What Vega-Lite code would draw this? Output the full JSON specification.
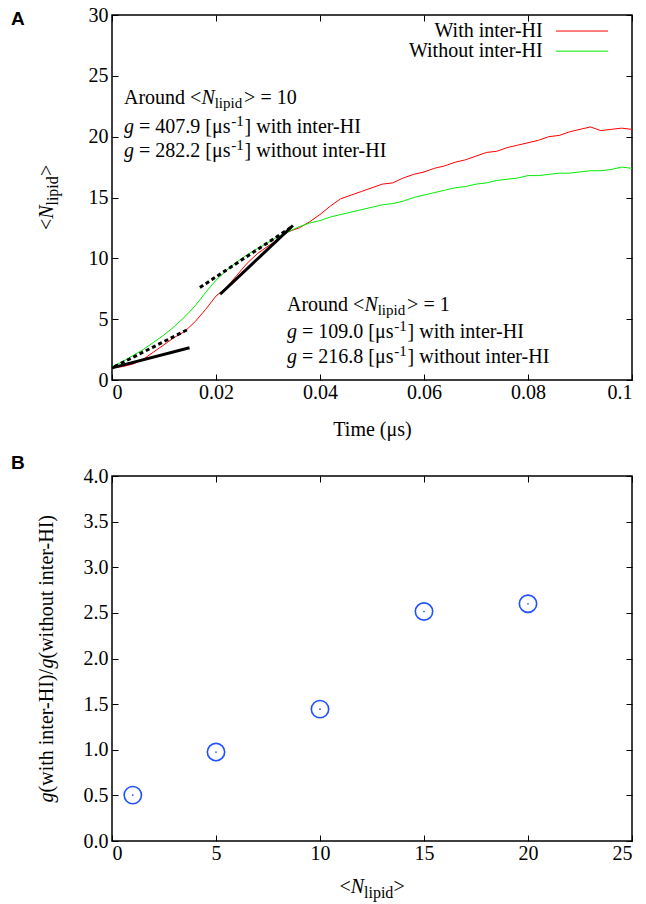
{
  "$schema": "https://vega.github.io/schema/vega-lite/v6.json",
  "padding": {"left": 10, "top": 4, "right": 4, "bottom": 4},
  "config": {
    "font": "Liberation Serif",
    "view": {"stroke": "black", "strokeWidth": 1.5},
    "style": {"guide-label": {"font": "Liberation Serif", "fontSize": 20, "fill": "black"}, "guide-title": {"font": "Liberation Serif", "fontSize": 20, "fontWeight": "normal", "fill": "black"}},
    "axis": {
      "labelFont": "Liberation Serif", "labelFontSize": 20, "labelColor": "black",
      "titleFont": "Liberation Serif", "titleFontSize": 20, "titleFontWeight": "normal", "titleColor": "black",
      "tickColor": "black", "tickSize": -6, "tickWidth": 1, "domain": false, "grid": false
    }
  },
  "datasets": {
    "curves": [
      {"s": "With inter-HI", "t": 0, "n": 1.0}, {"s": "With inter-HI", "t": 0.002, "n": 1.1}, {"s": "With inter-HI", "t": 0.004, "n": 1.3}, {"s": "With inter-HI", "t": 0.006, "n": 1.7}, {"s": "With inter-HI", "t": 0.008, "n": 2.3}, {"s": "With inter-HI", "t": 0.010, "n": 2.9}, {"s": "With inter-HI", "t": 0.012, "n": 3.5}, {"s": "With inter-HI", "t": 0.014, "n": 4.0}, {"s": "With inter-HI", "t": 0.016, "n": 4.8}, {"s": "With inter-HI", "t": 0.018, "n": 5.8}, {"s": "With inter-HI", "t": 0.020, "n": 6.9}, {"s": "With inter-HI", "t": 0.022, "n": 7.6}, {"s": "With inter-HI", "t": 0.024, "n": 8.6}, {"s": "With inter-HI", "t": 0.026, "n": 9.6}, {"s": "With inter-HI", "t": 0.028, "n": 10.4}, {"s": "With inter-HI", "t": 0.030, "n": 11.0}, {"s": "With inter-HI", "t": 0.032, "n": 11.6}, {"s": "With inter-HI", "t": 0.034, "n": 12.2}, {"s": "With inter-HI", "t": 0.036, "n": 12.5}, {"s": "With inter-HI", "t": 0.038, "n": 13.0}, {"s": "With inter-HI", "t": 0.040, "n": 13.6}, {"s": "With inter-HI", "t": 0.042, "n": 14.3}, {"s": "With inter-HI", "t": 0.044, "n": 14.9}, {"s": "With inter-HI", "t": 0.046, "n": 15.2}, {"s": "With inter-HI", "t": 0.048, "n": 15.5}, {"s": "With inter-HI", "t": 0.050, "n": 15.8}, {"s": "With inter-HI", "t": 0.052, "n": 16.1}, {"s": "With inter-HI", "t": 0.054, "n": 16.2}, {"s": "With inter-HI", "t": 0.056, "n": 16.6}, {"s": "With inter-HI", "t": 0.058, "n": 16.9}, {"s": "With inter-HI", "t": 0.060, "n": 17.1}, {"s": "With inter-HI", "t": 0.062, "n": 17.4}, {"s": "With inter-HI", "t": 0.064, "n": 17.6}, {"s": "With inter-HI", "t": 0.066, "n": 17.9}, {"s": "With inter-HI", "t": 0.068, "n": 18.1}, {"s": "With inter-HI", "t": 0.070, "n": 18.4}, {"s": "With inter-HI", "t": 0.072, "n": 18.7}, {"s": "With inter-HI", "t": 0.074, "n": 18.8}, {"s": "With inter-HI", "t": 0.076, "n": 19.1}, {"s": "With inter-HI", "t": 0.078, "n": 19.3}, {"s": "With inter-HI", "t": 0.080, "n": 19.5}, {"s": "With inter-HI", "t": 0.082, "n": 19.7}, {"s": "With inter-HI", "t": 0.084, "n": 20.0}, {"s": "With inter-HI", "t": 0.086, "n": 20.1}, {"s": "With inter-HI", "t": 0.088, "n": 20.4}, {"s": "With inter-HI", "t": 0.090, "n": 20.6}, {"s": "With inter-HI", "t": 0.092, "n": 20.8}, {"s": "With inter-HI", "t": 0.094, "n": 20.5}, {"s": "With inter-HI", "t": 0.096, "n": 20.6}, {"s": "With inter-HI", "t": 0.098, "n": 20.7}, {"s": "With inter-HI", "t": 0.100, "n": 20.6},
      {"s": "Without inter-HI", "t": 0, "n": 1.1}, {"s": "Without inter-HI", "t": 0.002, "n": 1.5}, {"s": "Without inter-HI", "t": 0.004, "n": 2.0}, {"s": "Without inter-HI", "t": 0.006, "n": 2.5}, {"s": "Without inter-HI", "t": 0.008, "n": 3.1}, {"s": "Without inter-HI", "t": 0.010, "n": 3.7}, {"s": "Without inter-HI", "t": 0.012, "n": 4.4}, {"s": "Without inter-HI", "t": 0.014, "n": 5.2}, {"s": "Without inter-HI", "t": 0.016, "n": 6.1}, {"s": "Without inter-HI", "t": 0.018, "n": 7.2}, {"s": "Without inter-HI", "t": 0.020, "n": 8.2}, {"s": "Without inter-HI", "t": 0.022, "n": 9.0}, {"s": "Without inter-HI", "t": 0.024, "n": 9.7}, {"s": "Without inter-HI", "t": 0.026, "n": 10.3}, {"s": "Without inter-HI", "t": 0.028, "n": 10.8}, {"s": "Without inter-HI", "t": 0.030, "n": 11.3}, {"s": "Without inter-HI", "t": 0.032, "n": 11.8}, {"s": "Without inter-HI", "t": 0.034, "n": 12.2}, {"s": "Without inter-HI", "t": 0.036, "n": 12.6}, {"s": "Without inter-HI", "t": 0.038, "n": 12.9}, {"s": "Without inter-HI", "t": 0.040, "n": 13.1}, {"s": "Without inter-HI", "t": 0.042, "n": 13.4}, {"s": "Without inter-HI", "t": 0.044, "n": 13.6}, {"s": "Without inter-HI", "t": 0.046, "n": 13.8}, {"s": "Without inter-HI", "t": 0.048, "n": 14.0}, {"s": "Without inter-HI", "t": 0.050, "n": 14.2}, {"s": "Without inter-HI", "t": 0.052, "n": 14.4}, {"s": "Without inter-HI", "t": 0.054, "n": 14.5}, {"s": "Without inter-HI", "t": 0.056, "n": 14.7}, {"s": "Without inter-HI", "t": 0.058, "n": 15.0}, {"s": "Without inter-HI", "t": 0.060, "n": 15.2}, {"s": "Without inter-HI", "t": 0.062, "n": 15.4}, {"s": "Without inter-HI", "t": 0.064, "n": 15.6}, {"s": "Without inter-HI", "t": 0.066, "n": 15.8}, {"s": "Without inter-HI", "t": 0.068, "n": 15.9}, {"s": "Without inter-HI", "t": 0.070, "n": 16.1}, {"s": "Without inter-HI", "t": 0.072, "n": 16.2}, {"s": "Without inter-HI", "t": 0.074, "n": 16.4}, {"s": "Without inter-HI", "t": 0.076, "n": 16.5}, {"s": "Without inter-HI", "t": 0.078, "n": 16.6}, {"s": "Without inter-HI", "t": 0.080, "n": 16.8}, {"s": "Without inter-HI", "t": 0.082, "n": 16.8}, {"s": "Without inter-HI", "t": 0.084, "n": 16.9}, {"s": "Without inter-HI", "t": 0.086, "n": 17.0}, {"s": "Without inter-HI", "t": 0.088, "n": 17.0}, {"s": "Without inter-HI", "t": 0.090, "n": 17.1}, {"s": "Without inter-HI", "t": 0.092, "n": 17.2}, {"s": "Without inter-HI", "t": 0.094, "n": 17.2}, {"s": "Without inter-HI", "t": 0.096, "n": 17.3}, {"s": "Without inter-HI", "t": 0.098, "n": 17.5}, {"s": "Without inter-HI", "t": 0.100, "n": 17.4}
    ],
    "tanSolid": [
      {"t": 0, "n": 1.0, "t2": 0.0149, "n2": 2.65},
      {"t": 0.0208, "n": 7.05, "t2": 0.0348, "n2": 12.7}
    ],
    "tanDashed": [
      {"t": 0.0005, "n": 1.1, "t2": 0.0148, "n2": 4.2},
      {"t": 0.0169, "n": 7.6, "t2": 0.0348, "n2": 12.65}
    ],
    "legendRows": [
      {"s": "With inter-HI", "n": 28.68},
      {"s": "Without inter-HI", "n": 27.03}
    ],
    "plainA": [
      {"txt": "Around <", "t": 0.002308, "n": 22.65},
      {"txt": "> = 10", "t": 0.025404, "n": 22.65},
      {"txt": "= 407.9 [μs", "t": 0.005192, "n": 20.32},
      {"txt": "] with inter-HI", "t": 0.0255, "n": 20.32},
      {"txt": "= 282.2 [μs", "t": 0.005192, "n": 18.32},
      {"txt": "] without inter-HI", "t": 0.0255, "n": 18.32},
      {"txt": "Around <", "t": 0.033654, "n": 5.67},
      {"txt": "> = 1", "t": 0.05675, "n": 5.67},
      {"txt": "= 109.0 [μs", "t": 0.036538, "n": 3.48},
      {"txt": "] with inter-HI", "t": 0.056846, "n": 3.48},
      {"txt": "= 216.8 [μs", "t": 0.036538, "n": 1.42},
      {"txt": "] without inter-HI", "t": 0.056846, "n": 1.42}
    ],
    "italicA": [
      {"txt": "N", "t": 0.017192, "n": 22.65},
      {"txt": "g", "t": 0.002308, "n": 20.32},
      {"txt": "g", "t": 0.002308, "n": 18.32},
      {"txt": "N", "t": 0.048538, "n": 5.67},
      {"txt": "g", "t": 0.033654, "n": 3.48},
      {"txt": "g", "t": 0.033654, "n": 1.42}
    ],
    "subA": [
      {"txt": "lipid", "t": 0.01975, "n": 22.65},
      {"txt": "lipid", "t": 0.051096, "n": 5.67}
    ],
    "supA": [
      {"txt": "-1", "t": 0.022923, "n": 20.32},
      {"txt": "-1", "t": 0.022923, "n": 18.32},
      {"txt": "-1", "t": 0.054269, "n": 3.48},
      {"txt": "-1", "t": 0.054269, "n": 1.42}
    ],
    "ytitleA": [
      {"txt": "<", "n": 12.32},
      {"txt": ">", "n": 16.76}
    ],
    "ratio": [
      {"nl": 1, "r": 0.503},
      {"nl": 5, "r": 0.975},
      {"nl": 10, "r": 1.445},
      {"nl": 15, "r": 2.515},
      {"nl": 20, "r": 2.6}
    ],
    "ytitleBPlain": [
      {"txt": "(with inter-HI)/", "r": 0.5326},
      {"txt": "(without inter-HI)", "r": 2.0}
    ],
    "ytitleBItalic": [
      {"txt": "g", "r": 0.423},
      {"txt": "g", "r": 1.8904}
    ],
    "xtitleBPlain": [
      {"txt": "<", "nl": 10.933},
      {"txt": ">", "nl": 13.529}
    ]
  },
  "spacing": 96,
  "bounds": "flush",
  "vconcat": [
    {
      "width": 520, "height": 365,
      "resolve": {"axis": {"x": "independent", "y": "independent"}},
      "layer": [
        {
          "data": {"name": "curves"},
          "mark": {"type": "line", "strokeWidth": 1},
          "encoding": {
            "x": {"field": "t", "type": "quantitative", "scale": {"domain": [0, 0.1], "nice": false, "zero": false},
                  "axis": {"values": [0, 0.02, 0.04, 0.06, 0.08, 0.1], "format": "~g", "title": "Time (μs)", "labelFont": "Liberation Serif", "labelFontSize": 20, "labelPadding": 8, "titlePadding": 17}},
            "y": {"field": "n", "type": "quantitative", "scale": {"domain": [0, 30], "nice": false},
                  "axis": {"values": [0, 5, 10, 15, 20, 25, 30], "title": null, "labelFont": "Liberation Serif", "labelFontSize": 20, "labelPadding": 10}},
            "color": {"field": "s", "type": "nominal", "scale": {"domain": ["With inter-HI", "Without inter-HI"], "range": ["#ff0000", "#00ee00"]}, "legend": null}
          }
        },
        {
          "data": {"name": "tanSolid"},
          "mark": {"type": "rule", "strokeWidth": 3, "color": "black"},
          "encoding": {
            "x": {"field": "t", "type": "quantitative", "axis": {"orient": "top", "values": [0, 0.02, 0.04, 0.06, 0.08, 0.1], "labels": false, "title": null}},
            "x2": {"field": "t2"},
            "y": {"field": "n", "type": "quantitative", "axis": {"orient": "right", "values": [0, 5, 10, 15, 20, 25, 30], "labels": false, "title": null}},
            "y2": {"field": "n2"}
          }
        },
        {
          "data": {"name": "tanDashed"},
          "mark": {"type": "rule", "strokeWidth": 3, "color": "black", "strokeDash": [4, 3]},
          "encoding": {
            "x": {"field": "t", "type": "quantitative", "axis": null},
            "x2": {"field": "t2"},
            "y": {"field": "n", "type": "quantitative", "axis": null},
            "y2": {"field": "n2"}
          }
        },
        {
          "data": {"name": "legendRows"},
          "mark": {"type": "text", "align": "right", "baseline": "middle", "fontSize": 20, "font": "Liberation Serif", "color": "black"},
          "encoding": {
            "x": {"datum": 0.08283, "type": "quantitative", "axis": null},
            "y": {"field": "n", "type": "quantitative", "axis": null},
            "text": {"field": "s"}
          }
        },
        {
          "data": {"name": "legendRows"},
          "mark": {"type": "rule", "strokeWidth": 1},
          "encoding": {
            "x": {"datum": 0.08538, "type": "quantitative", "axis": null},
            "x2": {"datum": 0.09538},
            "y": {"field": "n", "type": "quantitative", "axis": null},
            "color": {"field": "s", "type": "nominal", "legend": null}
          }
        },
        {
          "data": {"name": "plainA"},
          "mark": {"type": "text", "align": "left", "baseline": "alphabetic", "fontSize": 20, "font": "Liberation Serif", "color": "black"},
          "encoding": {
            "x": {"field": "t", "type": "quantitative", "axis": null},
            "y": {"field": "n", "type": "quantitative", "axis": null},
            "text": {"field": "txt"}
          }
        },
        {
          "data": {"name": "italicA"},
          "mark": {"type": "text", "align": "left", "baseline": "alphabetic", "fontSize": 20, "fontStyle": "italic", "font": "Liberation Serif", "color": "black"},
          "encoding": {
            "x": {"field": "t", "type": "quantitative", "axis": null},
            "y": {"field": "n", "type": "quantitative", "axis": null},
            "text": {"field": "txt"}
          }
        },
        {
          "data": {"name": "subA"},
          "mark": {"type": "text", "align": "left", "baseline": "alphabetic", "fontSize": 15, "dy": 4, "font": "Liberation Serif", "color": "black"},
          "encoding": {
            "x": {"field": "t", "type": "quantitative", "axis": null},
            "y": {"field": "n", "type": "quantitative", "axis": null},
            "text": {"field": "txt"}
          }
        },
        {
          "data": {"name": "supA"},
          "mark": {"type": "text", "align": "left", "baseline": "alphabetic", "fontSize": 15, "dy": -7, "font": "Liberation Serif", "color": "black"},
          "encoding": {
            "x": {"field": "t", "type": "quantitative", "axis": null},
            "y": {"field": "n", "type": "quantitative", "axis": null},
            "text": {"field": "txt"}
          }
        },
        {
          "data": {"name": "ytitleA"},
          "mark": {"type": "text", "align": "left", "baseline": "alphabetic", "angle": 270, "fontSize": 20, "font": "Liberation Serif", "color": "black"},
          "encoding": {
            "x": {"datum": -0.011346, "type": "quantitative", "axis": null},
            "y": {"field": "n", "type": "quantitative", "axis": null},
            "text": {"field": "txt"}
          }
        },
        {
          "data": {"values": [{"txt": "N"}]},
          "mark": {"type": "text", "align": "left", "baseline": "alphabetic", "angle": 270, "fontSize": 20, "fontStyle": "italic", "font": "Liberation Serif", "color": "black"},
          "encoding": {
            "x": {"datum": -0.011346, "type": "quantitative", "axis": null},
            "y": {"datum": 13.25, "type": "quantitative", "axis": null},
            "text": {"field": "txt"}
          }
        },
        {
          "data": {"values": [{"txt": "lipid"}]},
          "mark": {"type": "text", "align": "left", "baseline": "alphabetic", "angle": 270, "fontSize": 16, "dy": 5, "font": "Liberation Serif", "color": "black"},
          "encoding": {
            "x": {"datum": -0.011346, "type": "quantitative", "axis": null},
            "y": {"datum": 14.34, "type": "quantitative", "axis": null},
            "text": {"field": "txt"}
          }
        },
        {
          "data": {"values": [{"lab": "A"}]},
          "mark": {"type": "text", "align": "left", "baseline": "middle", "fontSize": 19, "fontWeight": "bold", "font": "Liberation Sans", "color": "black"},
          "encoding": {
            "x": {"datum": -0.01942, "type": "quantitative", "axis": null},
            "y": {"datum": 29.7, "type": "quantitative", "axis": null},
            "text": {"field": "lab"}
          }
        }
      ]
    },
    {
      "width": 520, "height": 365,
      "resolve": {"axis": {"x": "independent", "y": "independent"}},
      "layer": [
        {
          "data": {"name": "ratio"},
          "mark": {"type": "point", "shape": "circle", "size": 300, "filled": false, "stroke": "#1f4fff", "strokeWidth": 1.6, "opacity": 1},
          "encoding": {
            "x": {"field": "nl", "type": "quantitative", "scale": {"domain": [0, 25], "nice": false},
                  "axis": {"values": [0, 5, 10, 15, 20, 25], "title": null, "labelFont": "Liberation Serif", "labelFontSize": 20, "labelPadding": 8}},
            "y": {"field": "r", "type": "quantitative", "scale": {"domain": [0, 4], "nice": false},
                  "axis": {"values": [0, 0.5, 1, 1.5, 2, 2.5, 3, 3.5, 4], "format": ".1f", "title": null, "labelFont": "Liberation Serif", "labelFontSize": 20, "labelPadding": 10}}
          }
        },
        {
          "data": {"name": "ratio"},
          "mark": {"type": "point", "shape": "circle", "size": 3, "filled": true, "color": "#1f4fff", "opacity": 1},
          "encoding": {
            "x": {"field": "nl", "type": "quantitative", "axis": {"orient": "top", "values": [0, 5, 10, 15, 20, 25], "labels": false, "title": null}},
            "y": {"field": "r", "type": "quantitative", "axis": {"orient": "right", "values": [0, 0.5, 1, 1.5, 2, 2.5, 3, 3.5, 4], "labels": false, "title": null}}
          }
        },
        {
          "data": {"name": "ytitleBPlain"},
          "mark": {"type": "text", "align": "left", "baseline": "alphabetic", "angle": 270, "fontSize": 20, "font": "Liberation Serif", "color": "black"},
          "encoding": {
            "x": {"datum": -2.837, "type": "quantitative", "axis": null},
            "y": {"field": "r", "type": "quantitative", "axis": null},
            "text": {"field": "txt"}
          }
        },
        {
          "data": {"name": "ytitleBItalic"},
          "mark": {"type": "text", "align": "left", "baseline": "alphabetic", "angle": 270, "fontSize": 20, "fontStyle": "italic", "font": "Liberation Serif", "color": "black"},
          "encoding": {
            "x": {"datum": -2.837, "type": "quantitative", "axis": null},
            "y": {"field": "r", "type": "quantitative", "axis": null},
            "text": {"field": "txt"}
          }
        },
        {
          "data": {"name": "xtitleBPlain"},
          "mark": {"type": "text", "align": "left", "baseline": "alphabetic", "fontSize": 20, "font": "Liberation Serif", "color": "black"},
          "encoding": {
            "x": {"field": "nl", "type": "quantitative", "axis": null},
            "y": {"datum": -0.57, "type": "quantitative", "axis": null},
            "text": {"field": "txt"}
          }
        },
        {
          "data": {"values": [{"txt": "N"}]},
          "mark": {"type": "text", "align": "left", "baseline": "alphabetic", "fontSize": 20, "fontStyle": "italic", "font": "Liberation Serif", "color": "black"},
          "encoding": {
            "x": {"datum": 11.476, "type": "quantitative", "axis": null},
            "y": {"datum": -0.57, "type": "quantitative", "axis": null},
            "text": {"field": "txt"}
          }
        },
        {
          "data": {"values": [{"txt": "lipid"}]},
          "mark": {"type": "text", "align": "left", "baseline": "alphabetic", "fontSize": 16, "dy": 5, "font": "Liberation Serif", "color": "black"},
          "encoding": {
            "x": {"datum": 12.115, "type": "quantitative", "axis": null},
            "y": {"datum": -0.57, "type": "quantitative", "axis": null},
            "text": {"field": "txt"}
          }
        },
        {
          "data": {"values": [{"lab": "B"}]},
          "mark": {"type": "text", "align": "left", "baseline": "middle", "fontSize": 19, "fontWeight": "bold", "font": "Liberation Sans", "color": "black"},
          "encoding": {
            "x": {"datum": -4.856, "type": "quantitative", "axis": null},
            "y": {"datum": 4.14, "type": "quantitative", "axis": null},
            "text": {"field": "lab"}
          }
        }
      ]
    }
  ]
}
